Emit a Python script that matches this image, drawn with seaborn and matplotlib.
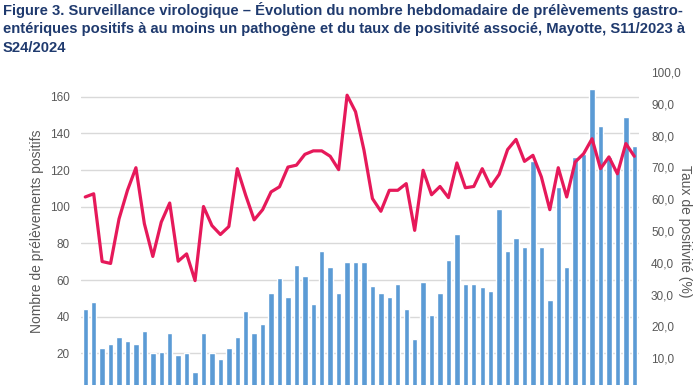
import numpy as np
import pandas as pd
import matplotlib
matplotlib.use("Agg")
import matplotlib.pyplot as plt
import seaborn as sns

# Weeks S11/2023 -> S24/2024
weeks = [f"S{w}/2023" for w in range(11, 53)] + [f"S{w}/2024" for w in range(1, 25)]

# Weekly number of positive samples (left axis)
positifs = [44, 48, 23, 25, 29, 27, 25, 32, 20, 21, 31, 19, 20, 10, 31, 20, 17, 23,
            29, 43, 31, 36, 53, 61, 51, 68, 62, 47, 76, 67, 53, 70, 70, 70, 57, 53,
            51, 58, 44, 28, 59, 41, 53, 71, 85, 58, 58, 56, 54, 99, 76, 83, 78, 125,
            78, 49, 111, 67, 127, 129, 164, 144, 127, 120, 149, 133]

# Positivity rate in % (right axis)
taux = [60.7, 61.7, 40.4, 39.8, 53.8, 62.8, 69.9, 52.3, 42.0, 52.8, 58.8, 40.5,
        42.8, 34.4, 57.7, 51.7, 48.9, 51.4, 69.6, 61.2, 53.5, 56.7, 62.3, 63.9,
        70.1, 70.7, 74.1, 75.2, 75.2, 73.5, 69.3, 92.7, 87.5, 75.4, 60.2, 56.2,
        62.8, 62.8, 64.9, 50.2, 69.1, 61.4, 64.0, 60.5, 71.4, 63.6, 64.0, 69.6,
        64.0, 67.8, 75.6, 78.8, 71.9, 73.8, 67.0, 56.7, 69.9, 60.7, 71.7, 74.3,
        79.0, 69.6, 73.3, 68.0, 77.5, 73.5]

df = pd.DataFrame({"semaine": weeks, "positifs": positifs, "taux": taux})
df["pos"] = np.arange(len(df))

sns.set_style("white")
plt.rcParams['font.family'] = ['Liberation Sans', 'DejaVu Sans']

fig = plt.figure(figsize=(6.96, 3.85), dpi=100)
ax = fig.add_axes([0.1164, -0.013, 0.801, 0.826])

sns.barplot(data=df, x="semaine", y="positifs", color="#5B9BD5", saturation=1,
            width=0.64, ax=ax, zorder=2)
ax.set_ylim(0, 173.5)
ax.set_yticks(range(20, 161, 20))
ax.yaxis.grid(True, color="#D9D9D9", lw=1, zorder=0)
ax.set_axisbelow(True)
ax.set_xticks([])
ax.set_xlabel("")
ax.set_ylabel("Nombre de prélèvements positifs", fontsize=10, color="#595959", labelpad=4)
ax.tick_params(axis="y", labelsize=8.5, colors="#595959", length=0, pad=8)
ax.set_xlim(-0.5, len(df) - 0.5)
for s in ax.spines.values():
    s.set_visible(False)

ax2 = ax.twinx()
sns.lineplot(data=df, x="pos", y="taux", color="#E6195A", lw=2.3, ax=ax2, zorder=3)
ax2.set_ylim(0, 100)
ax2.set_yticks(range(10, 101, 10))
ax2.set_yticklabels([f"{v},0" for v in range(10, 101, 10)])
ax2.set_ylabel("Taux de positivité (%)", fontsize=10, color="#595959", rotation=270, labelpad=8)
ax2.tick_params(axis="y", labelsize=8.5, colors="#595959", length=0, pad=9)
ax2.set_xlim(-0.5, len(df) - 0.5)
ax2.set_xticks([])
ax2.set_xlabel("")
for s in ax2.spines.values():
    s.set_visible(False)

title = ("Figure 3. Surveillance virologique – Évolution du nombre hebdomadaire de prélèvements gastro-\n"
         "entériques positifs à au moins un pathogène et du taux de positivité associé, Mayotte, S11/2023 à\n"
         "S24/2024")
fig.text(0.004, 0.995, title, ha="left", va="top", fontsize=10.6, fontweight="bold",
         color="#1F3A6E", linespacing=1.4)

fig.savefig("out.png", dpi=100)
